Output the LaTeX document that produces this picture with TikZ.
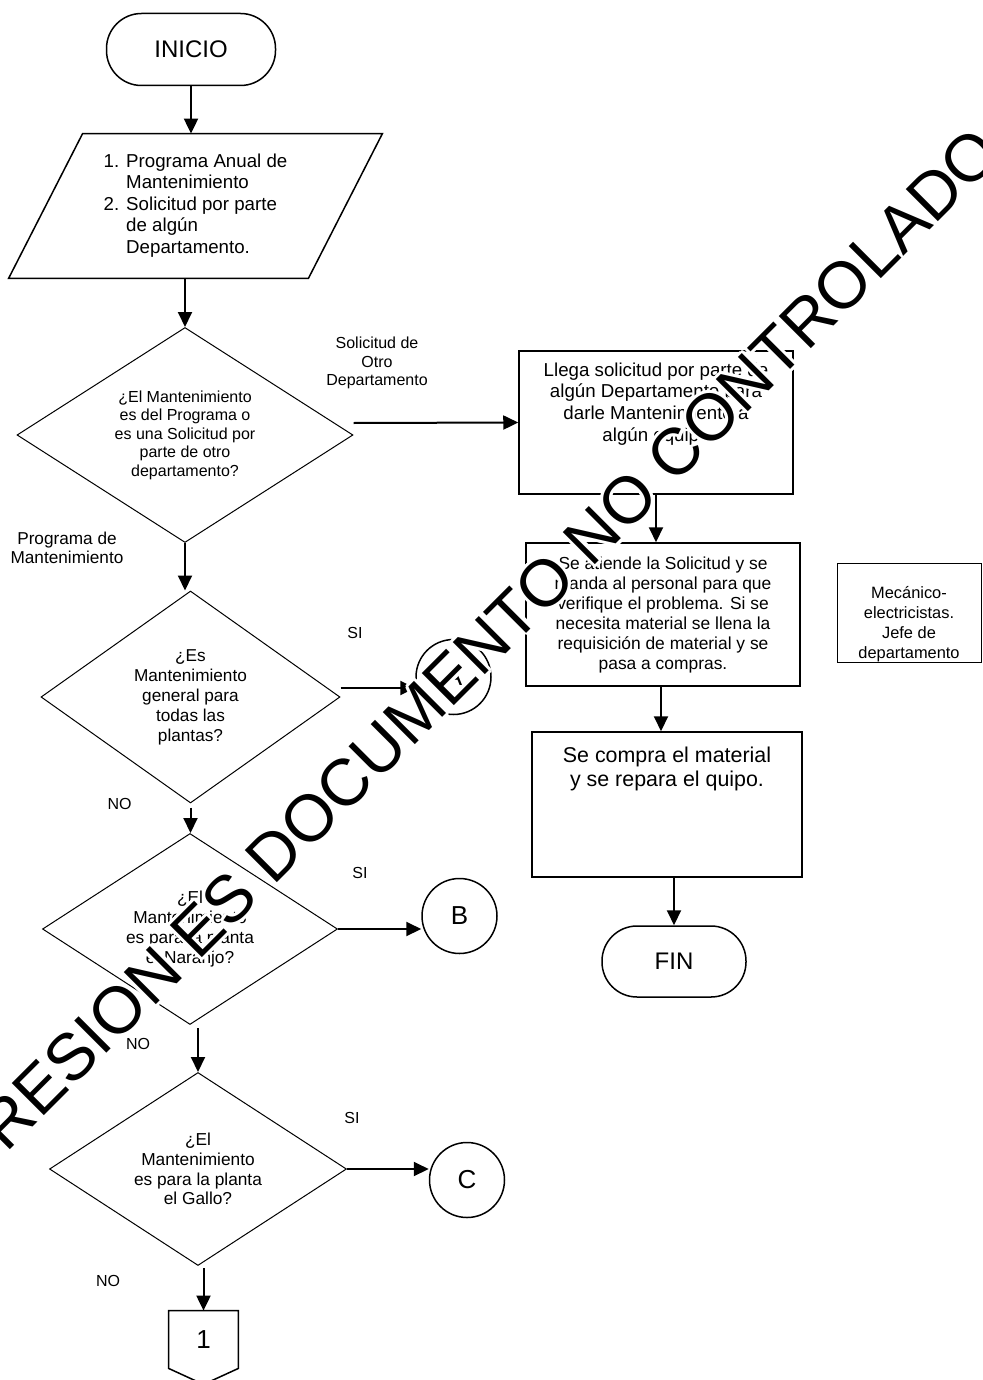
\documentclass[tikz,border=0pt]{standalone}
\usepackage{fontspec}
\setmainfont{Liberation Sans}
\usepackage{contour}
\usetikzlibrary{shapes.geometric,arrows.meta}
\newlength{\basisflujo}
\setlength{\basisflujo}{0.5pt}
\contournumber{12}

\begin{document}
\begin{tikzpicture}[
    terminal/.style={draw, line width=1.5\basisflujo, rounded corners=35\basisflujo, minimum height=72\basisflujo, font=\fontsize{12}{14}\selectfont},
    decision/.style={draw, diamond, line width=1\basisflujo, inner sep=0pt, align=center},
    proceso/.style={draw, rectangle, line width=1.5\basisflujo, inner sep=0pt, align=center},
    conector/.style={draw, circle, line width=1.5\basisflujo, minimum size=75\basisflujo, inner sep=0pt, font=\fontsize{13}{15}\selectfont},
    etiqueta/.style={inner sep=0pt, align=center, font=\fontsize{8}{9.2}\selectfont},
    flecha/.style={line width=2\basisflujo, -{Triangle[length=7.5pt, width=7pt]}},
]
    \useasboundingbox (0,0) rectangle (983\basisflujo,-1380\basisflujo);

    % columna izquierda
    \draw (191\basisflujo,-49.5\basisflujo) 
		node[terminal, minimum width=169\basisflujo] 
			(inicio) {INICIO};

    \draw (195.5\basisflujo,-206\basisflujo) 
		node[minimum width=299\basisflujo, minimum height=144\basisflujo, inner sep=0pt, font=\fontsize{9.35}{10.75}\selectfont] 
			(datos) {\begin{tabular}{@{}l@{\hspace{3.5pt}}l@{}}1. & Programa Anual de\\ & Mantenimiento\\ 2. & Solicitud por parte\\ & de algún\\ & Departamento.\end{tabular}};
    \draw[line width=1.5\basisflujo] ([xshift=37\basisflujo]datos.north west) -- ([xshift=37\basisflujo]datos.north east) -- ([xshift=-37\basisflujo]datos.south east) -- ([xshift=-37\basisflujo]datos.south west) -- cycle;

    \draw (185\basisflujo,-435\basisflujo) 
		node[decision, aspect=1.56, minimum width=336\basisflujo, minimum height=215\basisflujo, font=\fontsize{8}{9.25}\selectfont] 
			(uno) {¿El Mantenimiento\\es del Programa o\\es una Solicitud por\\parte de otro\\departamento?};

    \draw (190.5\basisflujo,-697\basisflujo) 
		node[decision, aspect=1.41, minimum width=299\basisflujo, minimum height=212\basisflujo, font=\fontsize{8.6}{10}\selectfont] 
			(dos) {¿Es\\Mantenimiento\\general para\\todas las\\plantas?};

    \draw (190\basisflujo,-929\basisflujo) 
		node[decision, aspect=1.54, minimum width=295\basisflujo, minimum height=191\basisflujo, font=\fontsize{8.65}{9.9}\selectfont] 
			(tres) {¿El\\Mantenimiento\\es para la planta\\el Naranjo?};

    \draw (198\basisflujo,-1169\basisflujo) 
		node[decision, aspect=1.54, minimum width=297\basisflujo, minimum height=193\basisflujo, font=\fontsize{8.65}{9.9}\selectfont] 
			(cuatro) {¿El\\Mantenimiento\\es para la planta\\el Gallo?};

    \draw (203.5\basisflujo,-1339.5\basisflujo) 
		node[minimum width=69\basisflujo, minimum height=57\basisflujo, inner sep=0pt, font=\fontsize{13}{15}\selectfont] 
			(pagina) {1};
    \draw[line width=1.5\basisflujo] (pagina.south west) -- (pagina.north west) -- (pagina.north east) -- (pagina.south east) -- ([yshift=-16\basisflujo]pagina.south) -- cycle;

    % conectores
    \draw (453.5\basisflujo,-677\basisflujo) node[conector] (A) {A};
    \draw (459.5\basisflujo,-916\basisflujo) node[conector] (B) {B};
    \draw (467\basisflujo,-1180\basisflujo) node[conector] (C) {C};

    % columna derecha
    \draw (656\basisflujo,-422.5\basisflujo) 
		node[proceso, minimum width=274\basisflujo, minimum height=143\basisflujo, text depth=41\basisflujo, font=\fontsize{9.35}{10.85}\selectfont] 
			(caja1) {Llega solicitud por parte de\\algún Departamento para\\darle Mantenimiento a\\algún equipo};

    \draw (663\basisflujo,-614.5\basisflujo) 
		node[proceso, minimum width=274\basisflujo, minimum height=143\basisflujo, font=\fontsize{8.7}{10}\selectfont] 
			(caja2) {Se atiende la Solicitud y se\\manda al personal para que\\verifique el problema. Si se\\necesita material se llena la\\requisición de material y se\\pasa a compras.};

    \draw (667\basisflujo,-804.5\basisflujo) 
		node[proceso, minimum width=270\basisflujo, minimum height=145\basisflujo, text depth=75\basisflujo, font=\fontsize{10.7}{12.15}\selectfont] 
			(caja3) {Se compra el material\\y se repara el quipo.};

    \draw (674\basisflujo,-961.5\basisflujo) 
		node[terminal, minimum width=144\basisflujo, minimum height=71\basisflujo] 
			(fin) {FIN};

    \draw (909\basisflujo,-613\basisflujo) 
		node[proceso, line width=1\basisflujo, minimum width=144\basisflujo, minimum height=96\basisflujo, text height=95\basisflujo, font=\fontsize{8.2}{10}\selectfont] 
			(mecanico) {Mecánico-\\electricistas.\\Jefe de\\departamento};

    % etiquetas
    \draw (377\basisflujo,-363\basisflujo) node[etiqueta, font=\fontsize{8}{9.15}\selectfont] (solicitud) {Solicitud de\\Otro\\Departamento};
    \draw (67\basisflujo,-548\basisflujo) node[etiqueta, font=\fontsize{8.6}{9.8}\selectfont] (programa) {Programa de\\Mantenimiento};
    \draw (355\basisflujo,-633\basisflujo) node[etiqueta] (si-uno) {SI};
    \draw (119.5\basisflujo,-804\basisflujo) node[etiqueta] (no-uno) {NO};
    \draw (360\basisflujo,-873\basisflujo) node[etiqueta] (si-dos) {SI};
    \draw (138\basisflujo,-1044\basisflujo) node[etiqueta] (no-dos) {NO};
    \draw (352\basisflujo,-1118\basisflujo) node[etiqueta] (si-tres) {SI};
    \draw (108\basisflujo,-1281\basisflujo) node[etiqueta] (no-tres) {NO};

	\draw[flecha] (inicio.south) -- (inicio.south |- datos.north);
	\draw[flecha] (uno.north |- datos.south) -- (uno.north);
	\draw[flecha] (uno.south) -- (uno.south |- dos.north);
	\draw[flecha] ([yshift=-4\basisflujo]dos.south) -- (dos.south |- tres.north);
	\draw[flecha] ([yshift=-3\basisflujo]tres.south -| cuatro.north) -- (cuatro.north);
	\draw[flecha] ([yshift=-2\basisflujo]cuatro.south -| pagina.north) -- (pagina.north);
	\draw[flecha] ([yshift=12\basisflujo]uno.east) -- (caja1.west);
	\draw[flecha] ([yshift=9\basisflujo]dos.east) -- ([yshift=-11\basisflujo]A.west);
	\draw[flecha] (tres.east) -- ([yshift=-13\basisflujo]B.west);
	\draw[flecha] (cuatro.east) -- ([yshift=11\basisflujo]C.west);
	\draw[flecha] (caja1.south) -- (caja1.south |- caja2.north);
	\draw[flecha] ([xshift=-2\basisflujo]caja2.south) -- ([xshift=-2\basisflujo]caja2.south |- caja3.north);
	\draw[flecha] (fin.north |- caja3.south) -- (fin.north);

    % marca de agua
    \draw (449\basisflujo,-681\basisflujo) 
		node[rotate=45, inner sep=0pt, font=\fontsize{33}{40}\selectfont] 
			(marca) {\contourlength{1.5pt}\contour{white}{IMPRESION ES DOCUMENTO NO CONTROLADO}};
\end{tikzpicture}
\end{document}
